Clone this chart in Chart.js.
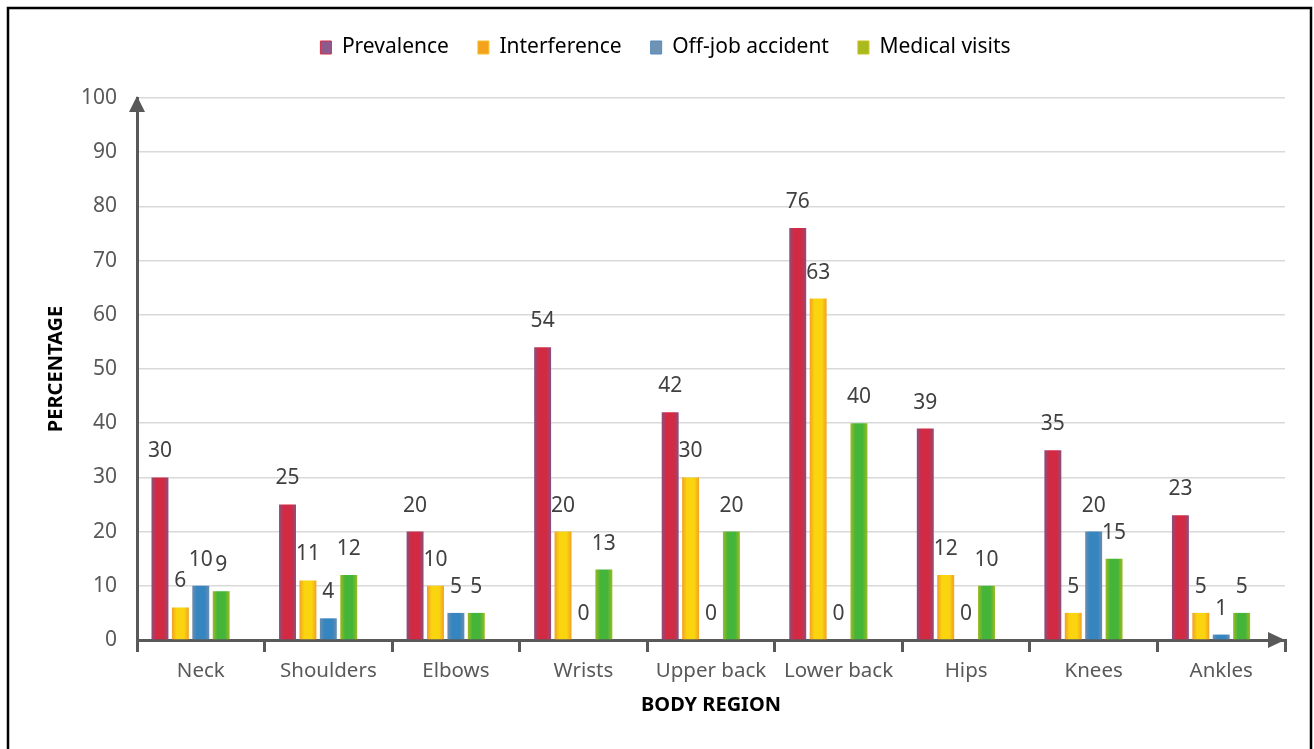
<!DOCTYPE html>
<html>
<head>
<meta charset="utf-8">
<script src="https://cdn.jsdelivr.net/npm/chart.js@4"></script>
<style>
  html, body { margin: 0; padding: 0; background: #fff; }
  #wrap { width: 1314px; height: 749px; }
</style>
</head>
<body>
<div id="wrap"><canvas id="regionChart" width="1314" height="749"></canvas></div>
<script>
// survey results per body region (%)
const regions = ["Neck", "Shoulders", "Elbows", "Wrists", "Upper back", "Lower back", "Hips", "Knees", "Ankles"];
const prevalence = [30, 25, 20, 54, 42, 76, 39, 35, 23];
const interference = [6, 11, 10, 20, 30, 63, 12, 5, 5];
const offJobAccident = [10, 4, 5, 0, 0, 0, 0, 20, 1];
const medicalVisits = [9, 12, 5, 13, 20, 40, 10, 15, 5];
const yTicks = [0, 10, 20, 30, 40, 50, 60, 70, 80, 90, 100];

const FONT = "'Noto Sans', sans-serif";
const CAT_PCT = 0.8;
const BAR_PCT = 0.83;
const SLOTS = 5; // four series plus one empty slot at the end of each group

// edge / centre colours for the bar gradients, plus legend swatches
const palette = [
  { edge: "#8a4f80", mid: "#d22a42", swatch: "#8c5a8c", swatchLine: "#d0304a" },
  { edge: "#f2a025", mid: "#fad40e", swatch: "#f4a21c", swatchLine: "#f7c030" },
  { edge: "#6b8db0", mid: "#3585c0", swatch: "#6e93b4", swatchLine: "#5a8ab8" },
  { edge: "#9dbb20", mid: "#45b53a", swatch: "#a8ba1e", swatchLine: "#c8c020" },
];

const seriesNames = ["Prevalence", "Interference", "Off-job accident", "Medical visits"];
const seriesData = [prevalence, interference, offJobAccident, medicalVisits];

// horizontal gradient across each bar, located from the x scale
function barFill(ctx) {
  const p = palette[ctx.datasetIndex] || palette[0];
  const chart = ctx.chart;
  const xs = chart.scales.x;
  if (ctx.type !== "data" || !xs || !xs.width) return p.mid;
  const cat = xs.width / regions.length;
  const group = cat * CAT_PCT;
  const slot = group / SLOTS;
  const cx = xs.getPixelForValue(ctx.dataIndex) - group / 2 + slot * (ctx.datasetIndex + 0.5);
  const half = (slot * BAR_PCT) / 2;
  const g = chart.ctx.createLinearGradient(cx - half, 0, cx + half, 0);
  g.addColorStop(0, p.edge);
  g.addColorStop(0.28, p.mid);
  g.addColorStop(0.72, p.mid);
  g.addColorStop(1, p.edge);
  return g;
}

const frame = {
  id: "frame",
  beforeInit(chart) {
    // fixed legend band height
    const fit = chart.legend.fit;
    chart.legend.fit = function () {
      fit.bind(chart.legend)();
      this.height = 90;
    };
  },
  afterLayout(chart) {
    // legend sits a little right of centre
    chart.legend.left += 23;
    chart.legend.right += 23;
  },
  beforeDraw(chart) {
    const c = chart.ctx;
    c.save();
    c.fillStyle = "#fff";
    c.fillRect(0, 0, chart.width, chart.height);
    c.restore();
  },
  afterDraw(chart) {
    const c = chart.ctx;
    const a = chart.chartArea;
    c.save();
    // outer box
    c.strokeStyle = "#000";
    c.lineWidth = 2.5;
    c.strokeRect(8, 8, chart.width - 11, chart.height + 10);
    // axis arrow heads
    c.fillStyle = "#595959";
    const yx = chart.scales.y.right;
    c.beginPath();
    c.moveTo(yx, a.top - 2);
    c.lineTo(yx - 8, a.top + 14);
    c.lineTo(yx + 8, a.top + 14);
    c.closePath();
    c.fill();
    const xy = chart.scales.x.top;
    c.beginPath();
    c.moveTo(a.right, xy);
    c.lineTo(a.right - 17, xy - 8);
    c.lineTo(a.right - 17, xy + 8);
    c.closePath();
    c.fill();
    c.restore();
  },
};

// value printed above every bar
const valueLabels = {
  id: "valueLabels",
  afterDatasetsDraw(chart) {
    const c = chart.ctx;
    c.save();
    c.font = "21px " + FONT;
    c.fillStyle = "#404040";
    c.textAlign = "center";
    c.textBaseline = "middle";
    seriesData.forEach((d, i) => {
      chart.getDatasetMeta(i).data.forEach((bar, j) => {
        c.fillText(String(d[j]), bar.x, bar.y - 26);
      });
    });
    c.restore();
  },
};

const datasets = seriesData.map((d, i) => ({
  label: seriesNames[i],
  data: d,
  backgroundColor: barFill,
  categoryPercentage: CAT_PCT,
  barPercentage: BAR_PCT,
}));
// empty spacer series
datasets.push({
  label: "",
  data: regions.map(() => null),
  backgroundColor: "rgba(0,0,0,0)",
  categoryPercentage: CAT_PCT,
  barPercentage: BAR_PCT,
});

new Chart(document.getElementById("regionChart"), {
  type: "bar",
  data: { labels: regions, datasets },
  options: {
    responsive: false,
    animation: false,
    layout: { padding: { left: 0, right: 29, top: 8, bottom: 0 } },
    plugins: {
      tooltip: { enabled: false },
      legend: {
        position: "top",
        labels: {
          font: { family: FONT, size: 21 },
          color: "#595959",
          boxWidth: 11,
          boxHeight: 13,
          padding: 29,
          generateLabels: () =>
            seriesNames.map((n, i) => ({
              text: n,
              fillStyle: palette[i].swatch,
              strokeStyle: palette[i].swatchLine,
              lineWidth: 1,
              datasetIndex: i,
            })),
        },
      },
    },
    scales: {
      x: {
        afterFit: (s) => { s.height = 109; },
        grid: {
          offset: true,
          drawOnChartArea: false,
          drawTicks: true,
          tickLength: 12,
          color: "#595959",
          lineWidth: 3,
        },
        border: { display: true, color: "#595959", width: 3 },
        ticks: { font: { family: FONT, size: 20.5 }, color: "#595959", padding: 7 },
        title: {
          display: true,
          text: "BODY REGION",
          font: { family: FONT, size: 20, weight: "bold" },
          color: "#000",
          padding: { top: 0, bottom: 32 },
        },
      },
      y: {
        min: 0,
        max: 100,
        afterFit: (s) => { s.width = 137; },
        afterBuildTicks: (s) => { s.ticks = yTicks.map((v) => ({ value: v })); },
        grid: { color: "#d9d9d9", lineWidth: 1.5, drawTicks: false },
        border: { display: true, color: "#595959", width: 3 },
        ticks: { font: { family: FONT, size: 21 }, color: "#595959", padding: 20 },
        title: {
          display: true,
          text: "PERCENTAGE",
          font: { family: FONT, size: 20, weight: "bold" },
          color: "#000",
          padding: { top: 44, bottom: 0 },
        },
      },
    },
  },
  plugins: [frame, valueLabels],
});
</script>
</body>
</html>
